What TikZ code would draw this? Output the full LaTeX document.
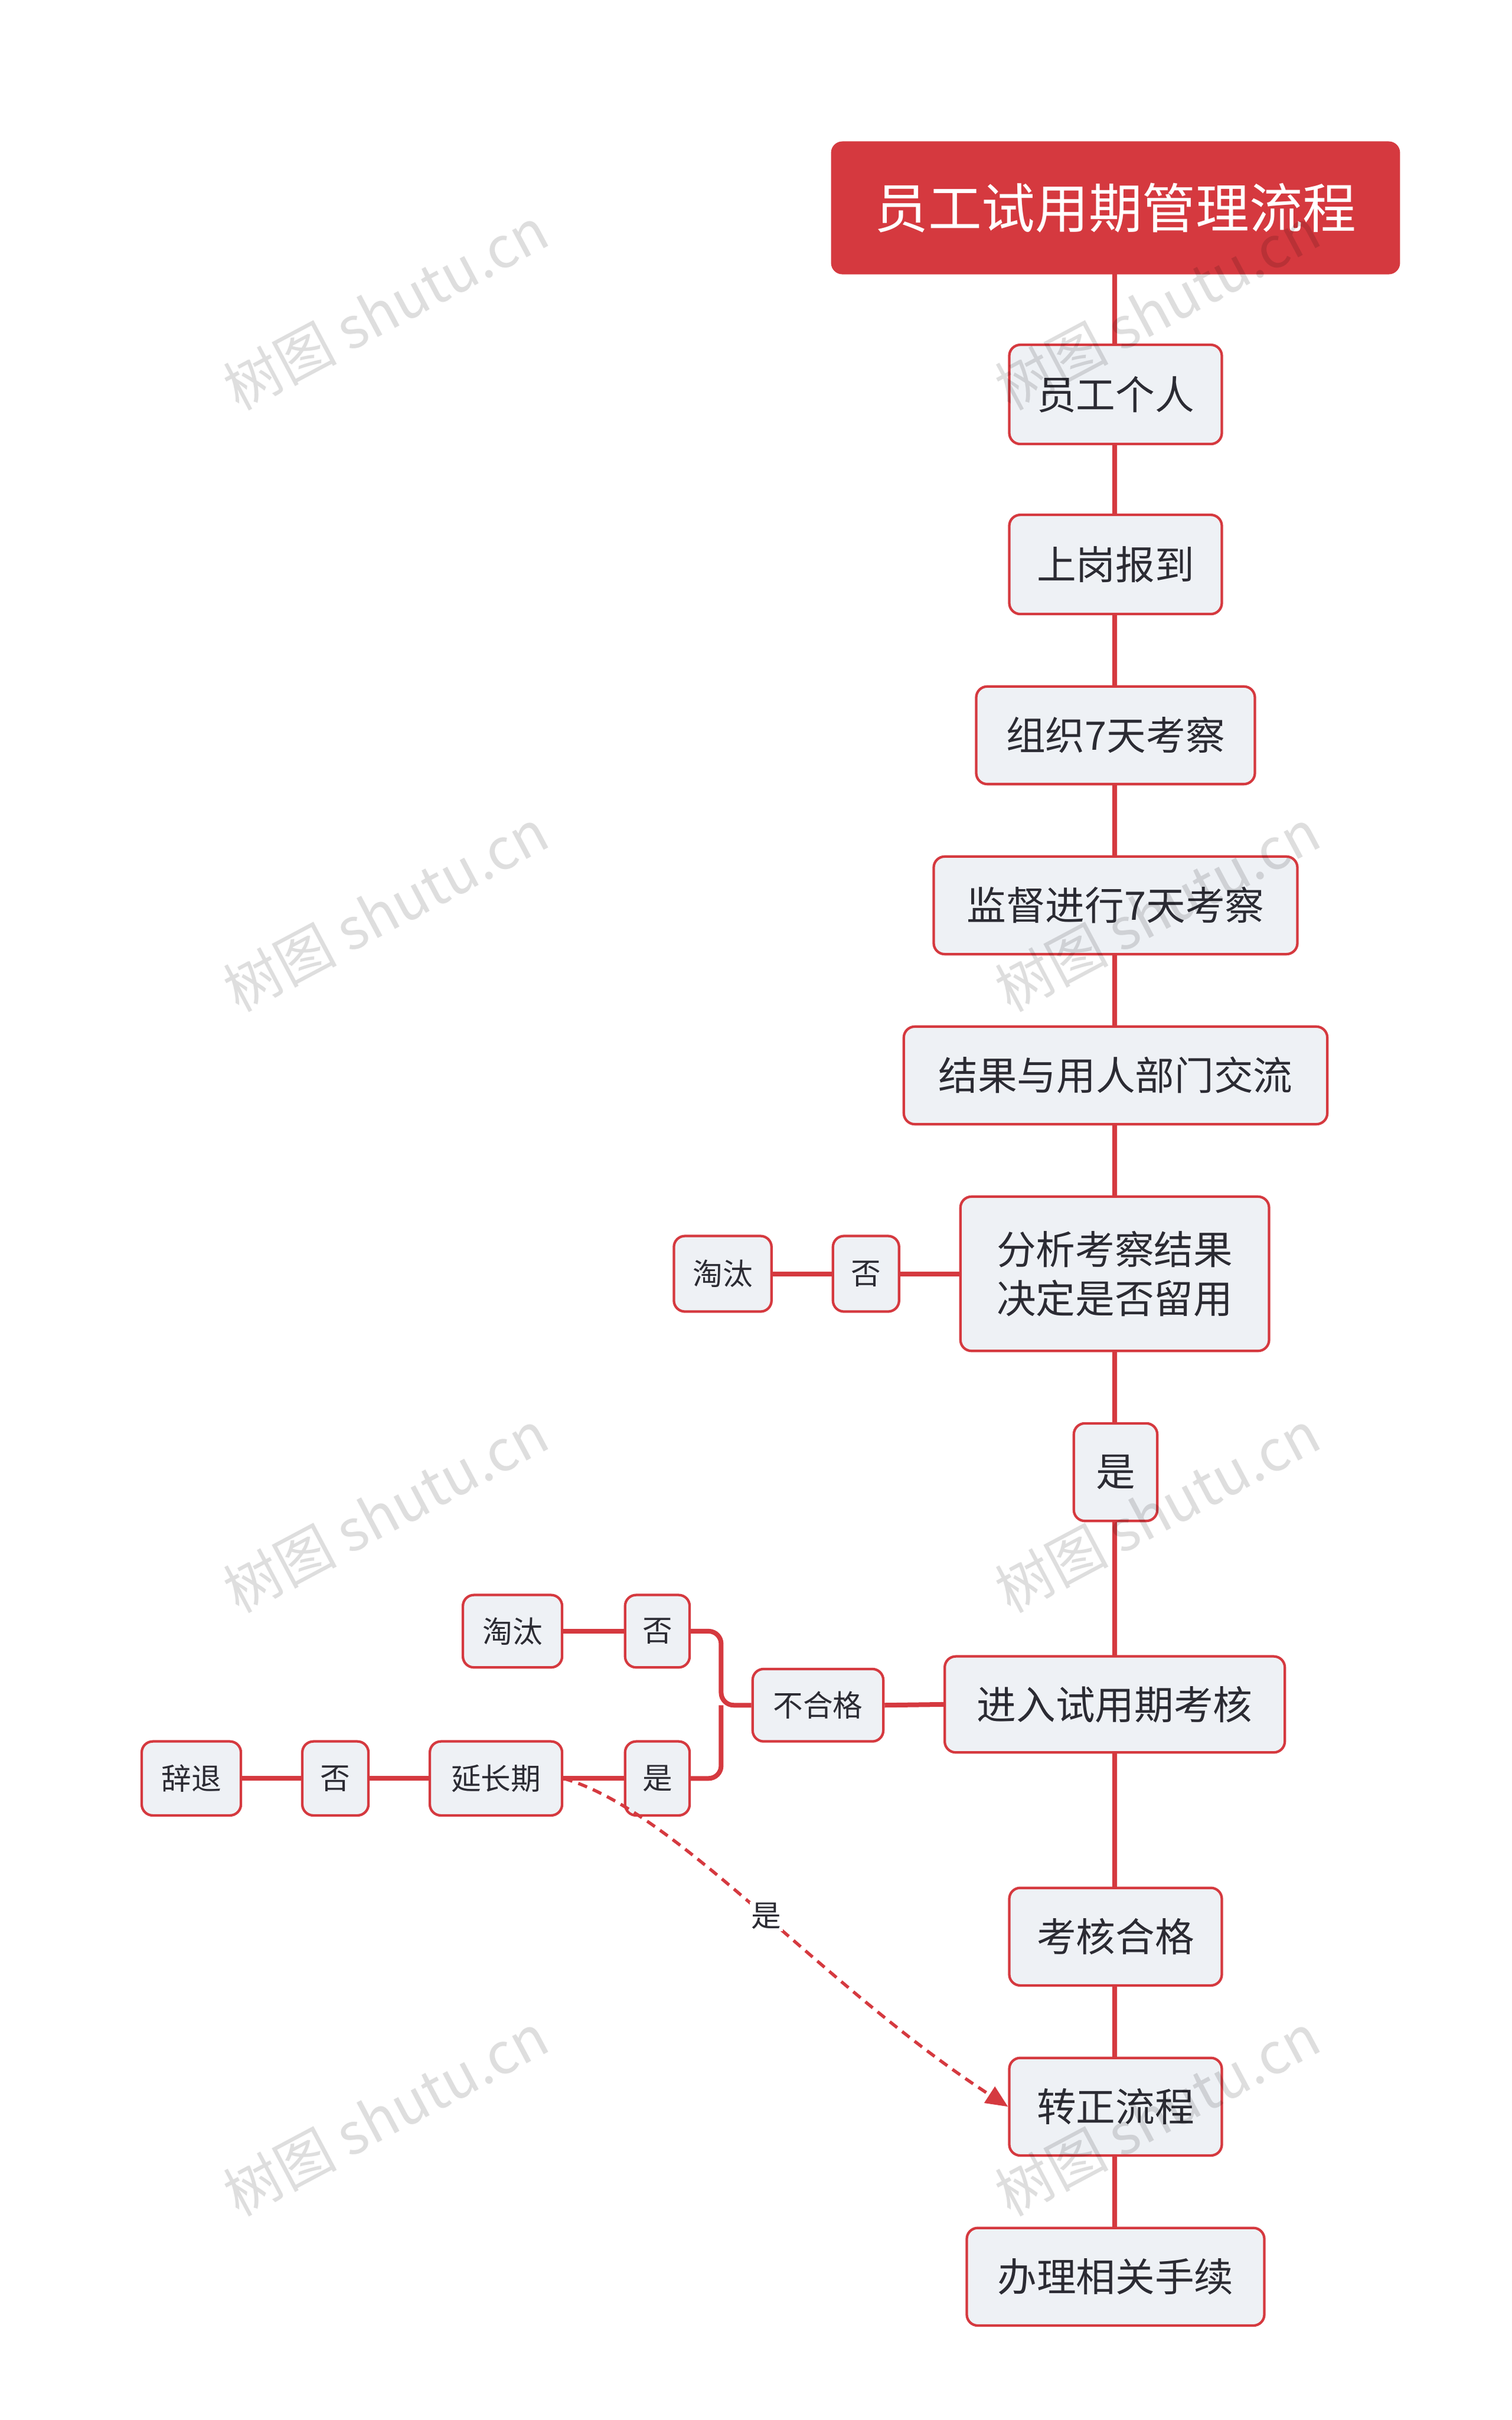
\documentclass[tikz,border=0pt]{standalone}
\usepackage{fontspec}
\setmainfont{Noto Sans CJK SC}
\usetikzlibrary{arrows.meta}
\definecolor{rd}{HTML}{D5393F}
\definecolor{bx}{HTML}{EEF1F5}
\definecolor{tx}{HTML}{2B2B33}
\begin{document}
\begin{tikzpicture}[x=1pt,y=-1pt,
 box/.style={draw=rd,line width=1.6pt,fill=bx,rounded corners=7pt,text=tx,font=\fontsize{25}{31}\selectfont,inner sep=0pt,align=left},
 sbox/.style={box,font=\fontsize{19}{23}\selectfont},
 ln/.style={rd,line width=3pt},
 wm/.style={text=black,text opacity=0.13,font=\fontsize{36}{40}\selectfont,rotate=28}]
\useasboundingbox (0,0) rectangle (960,1537);
\def\B#1#2#3#4#5#6{\node[box,minimum width=#3-#2,minimum height=#5-#4] (#1) at ({(#2+#3)/2},{(#4+#5)/2}) {#6};}
\def\S#1#2#3#4#5#6{\node[sbox,minimum width=#3-#2,minimum height=#5-#4] (#1) at ({(#2+#3)/2},{(#4+#5)/2}) {#6};}
\draw[ln] (708,174) -- (708,1415);
\B{n1}{641}{776}{219}{282}{员工个人}
\B{n2}{641}{776}{327}{390}{上岗报到}
\B{n3}{620}{797}{436}{498}{组织7天考察}
\B{n4}{593}{824}{544}{606}{监督进行7天考察}
\B{n5}{574}{843}{652}{714}{结果与用人部门交流}
\B{n6}{610}{806}{760}{858}{分析考察结果\\决定是否留用}
\B{n7}{682}{735}{904}{966}{是}
\B{n8}{600}{816}{1052}{1113}{进入试用期考核}
\B{n9}{641}{776}{1199}{1261}{考核合格}
\B{n10}{641}{776}{1307}{1369}{转正流程}
\B{n11}{614}{803}{1415}{1477}{办理相关手续}
\node[draw=rd,fill=rd,rounded corners=7pt,text=white,font=\fontsize{34}{40}\selectfont,minimum width=361,minimum height=84,inner sep=0pt] (root) at (708.5,132) {员工试用期管理流程};
\S{a2}{529}{571}{785}{833}{否}
\S{a1}{428}{490}{785}{833}{淘汰}
\S{b3}{478}{561}{1060}{1106}{不合格}
\S{b2}{397}{438}{1013}{1059}{否}
\S{b1}{294}{357}{1013}{1059}{淘汰}
\S{c4}{397}{438}{1106}{1153}{是}
\S{c3}{273}{357}{1106}{1153}{延长期}
\S{c2}{192}{234}{1106}{1153}{否}
\S{c1}{90}{153}{1106}{1153}{辞退}
\draw[ln] (n6.west) -- (a2.east) (a2.west) -- (a1.east);
\draw[ln] (n8.west) -- (b3.east);
\draw[ln,rounded corners=8pt] (b3.west) -- (458,1083) |- (b2.east);
\draw[ln,rounded corners=8pt] (458,1083) |- (c4.east);
\draw[ln] (b2.west) -- (b1.east) (c4.west) -- (c3.east) (c3.west) -- (c2.east) (c2.west) -- (c1.east);
\draw[rd,line width=2pt,dash pattern=on 6pt off 4pt,-{Triangle[length=14pt,width=12pt]}] (c3.east) .. controls (430,1150) and (520,1260) .. (n10.west) node[pos=0.52,fill=white,text=tx,font=\fontsize{19}{23}\selectfont,inner sep=1pt] (lab) {是};
\foreach \x/\y/\n in {245/196/w1,245/578/w2,245/960/w3,245/1343/w4,735/196/w5,735/578/w6,735/960/w7,735/1343/w8}
 \node[wm] (\n) at (\x,\y) {树图 shutu.cn};
\end{tikzpicture}
\end{document}
